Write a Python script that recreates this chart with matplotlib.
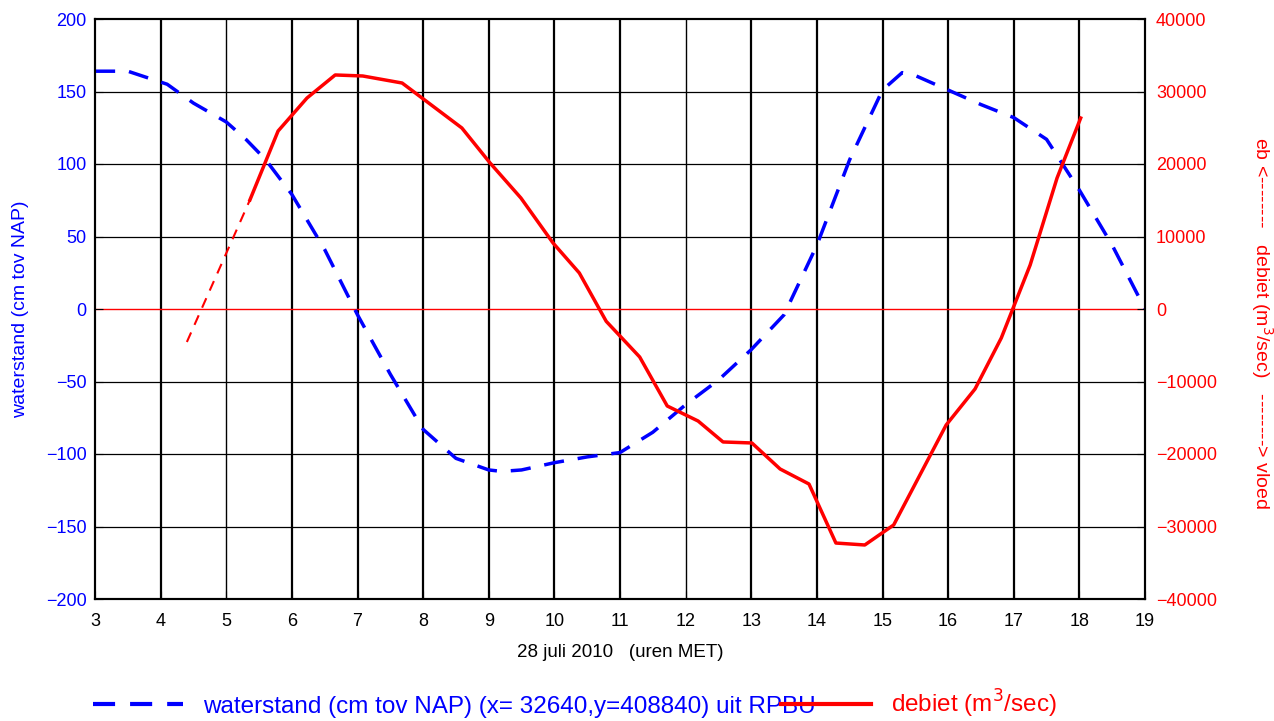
import matplotlib
matplotlib.use("Agg")
import matplotlib.pyplot as plt
from matplotlib.lines import Line2D

plt.rcParams['font.family'] = ['Liberation Sans', 'DejaVu Sans']

# waterstand (cm tov NAP)
t_ws = [3.0, 3.5, 4.1, 4.5, 5.0, 5.3, 5.6, 6.0, 6.5, 7.0, 7.5, 8.0, 8.5, 9.0, 9.2,
        9.5, 10.0, 10.5, 11.0, 11.5, 12.0, 12.5, 13.0, 13.5, 14.0, 14.5, 15.0,
        15.3, 15.5, 16.0, 16.5, 17.0, 17.5, 18.0, 18.5, 19.0]
ws = [164, 164, 155, 142, 129, 117, 103, 79, 41, -4, -45, -83, -103, -111, -112,
      -111, -106, -102, -99, -85, -66, -49, -28, -4, 44, 103, 151,
      163, 161, 151, 141, 132, 117, 82, 44, 0]

# debiet (m3/sec), extrapolated part (dashed) and measured part
t_deb_ext = [4.40, 5.36]
deb_ext = [-4550, 15030]
t_deb = [5.36, 5.79, 6.23, 6.66, 7.08, 7.68, 8.59, 9.02, 9.49, 9.98, 10.38, 10.79,
         11.30, 11.72, 12.19, 12.57, 13.01, 13.44, 13.88, 14.29, 14.73, 15.17,
         15.97, 16.41, 16.81, 17.25, 17.66, 18.02]
deb = [15030, 24550, 29100, 32280, 32140, 31170, 24970, 20140, 15310, 9100, 4970, -1700,
       -6620, -13380, -15450, -18340, -18480, -22070, -24140, -32280, -32550, -29790,
       -16000, -11030, -4000, 6070, 18070, 26340]

fs = 13
fig = plt.figure(figsize=(12.74, 7.21), dpi=100)
ax = fig.add_axes([95 / 1274, 1 - 599 / 721, 1050 / 1274, 580 / 721])
ax2 = ax.twinx()

ax.set_xlim(3, 19)
ax.set_ylim(-200, 200)
ax2.set_ylim(-40000, 40000)
ax.set_xticks(range(3, 20))
ax.set_yticks(range(-200, 201, 50))
ax2.set_yticks(range(-40000, 40001, 10000))

# grid
for x in range(4, 19):
    ax.axvline(x, color='black', lw=1.6 if x not in (5, 12) else 1.0, zorder=1)
for y in (-150, -100, -50, 50, 100, 150):
    ax.axhline(y, color='black', lw=0.9, zorder=1)
ax.axhline(0, color='red', lw=1.0, zorder=1)

ax.plot(t_ws, ws, color='blue', lw=2.5, dashes=(5.8, 4), zorder=3)
ax2.plot(t_deb_ext, deb_ext, color='red', lw=1.5, dashes=(5, 4), zorder=3)
ax2.plot(t_deb, deb, color='red', lw=2.5, zorder=3)

for a in (ax, ax2):
    for s in a.spines.values():
        s.set_linewidth(1.5)
ax.tick_params(axis='x', direction='in', labelsize=fs, length=6, pad=10)
ax.tick_params(axis='y', direction='in', labelsize=fs, length=6, pad=6,
               labelcolor='blue')
ax2.tick_params(axis='y', direction='in', labelsize=fs, labelcolor='red',
                length=6, pad=8)

ax.set_ylabel('waterstand (cm tov NAP)', color='blue', fontsize=14)
ax.yaxis.set_label_coords(-0.063, 0.5)
ax.set_xlabel('28 juli 2010   (uren MET)', fontsize=13.5)
ax.xaxis.set_label_coords(0.5, -0.077)
ax2.set_ylabel('eb <--------   debiet (m$^3$/sec)   --------> vloed', color='red',
               fontsize=14, rotation=270, va='center')
ax2.yaxis.set_label_coords(1.111, 0.475)

handles = [Line2D([], [], color='blue', lw=3, dashes=(5.3, 3.6)),
           Line2D([], [], color='red', lw=3)]
labels = ['waterstand (cm tov NAP) (x= 32640,y=408840) uit RPBU',
          'debiet (m$^3$/sec)']
leg = fig.legend(handles, labels, loc='lower left', bbox_to_anchor=(91 / 1274, -0.002),
                 ncol=2, frameon=False, fontsize=17.5, handlelength=3.7,
                 handletextpad=0.8, columnspacing=-1.4, borderpad=0.1,
                 borderaxespad=0)
for txt, c in zip(leg.get_texts(), ['blue', 'red']):
    txt.set_color(c)

fig.savefig('out.png', dpi=100)
